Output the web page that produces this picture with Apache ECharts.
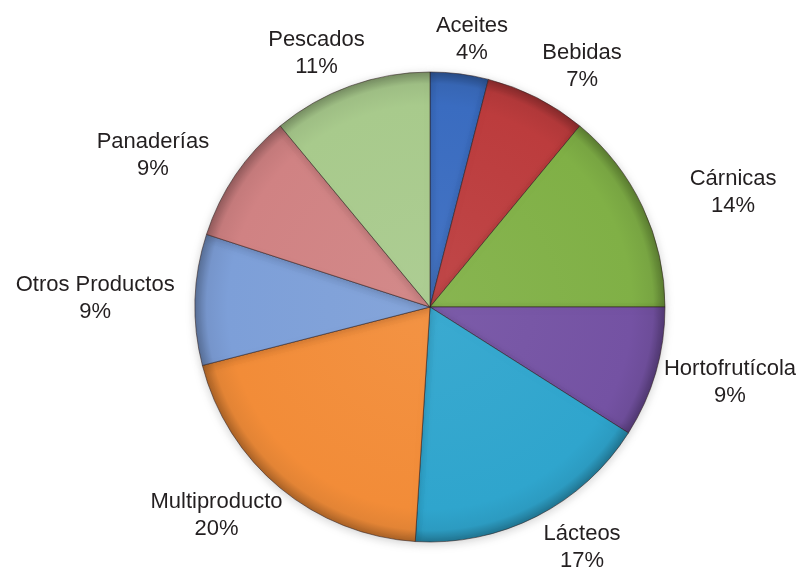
<!DOCTYPE html>
<html>
<head>
<meta charset="utf-8">
<script src="https://cdn.jsdelivr.net/npm/echarts@6/dist/echarts.min.js"></script>
<style>
  html, body { margin: 0; padding: 0; background: #ffffff; }
  #chart { width: 802px; height: 581px; }
</style>
</head>
<body>
<div id="chart"></div>
<script>
// Sectores de la industria alimentaria (% de empresas)
const categories = ['Aceites', 'Bebidas', 'Cárnicas', 'Hortofrutícola', 'Lácteos',
                    'Multiproducto', 'Otros Productos', 'Panaderías', 'Pescados'];
const shares = [4, 7, 14, 9, 17, 20, 9, 9, 11];
const sliceColors = ['#3a6cc0', '#bc3c3d', '#80b046', '#7452a3', '#2fa5cd',
                     '#f28c38', '#7d9fd8', '#d08283', '#a8ca8c'];

// pie geometry
const W = 802, H = 581;
const CX = 430, CY = 307, R = 235;
// labels sit on an ellipse around the pie, kept inside the canvas
const LABEL_RX = 335, LABEL_RY = 270, EDGE = 6;
const FONT_SIZE = 22, LINE_H = 27;
const FONT_FAMILY = '"Liberation Sans", Arial, sans-serif';

function shade(hex, f) {
  const n = parseInt(hex.slice(1), 16);
  let r = (n >> 16) & 255, g = (n >> 8) & 255, b = n & 255;
  const t = f < 0 ? 0 : 255, p = Math.abs(f);
  r = Math.round((t - r) * p + r);
  g = Math.round((t - g) * p + g);
  b = Math.round((t - b) * p + b);
  return 'rgb(' + r + ',' + g + ',' + b + ')';
}

function bevel(c) {
  return {
    type: 'radial', x: CX, y: CY, r: R, global: true,
    colorStops: [
      { offset: 0, color: shade(c, 0.06) },
      { offset: 0.86, color: c },
      { offset: 0.95, color: shade(c, -0.06) },
      { offset: 1, color: shade(c, -0.3) }
    ]
  };
}

const total = shares.reduce((a, b) => a + b, 0);
const midAngle = shares.map((v, i) => {
  const before = shares.slice(0, i).reduce((a, b) => a + b, 0);
  return (before + v / 2) / total * Math.PI * 2;
});

const measureCtx = document.createElement('canvas').getContext('2d');
measureCtx.font = FONT_SIZE + 'px ' + FONT_FAMILY;
function textWidth(text) {
  return Math.max.apply(null, String(text).split('\n').map(s => measureCtx.measureText(s).width));
}

const chart = echarts.init(document.getElementById('chart'), null, { renderer: 'canvas' });
chart.setOption({
  backgroundColor: '#ffffff',
  animation: false,
  series: [{
    type: 'pie',
    center: [CX, CY],
    radius: [0, R],
    startAngle: 90,
    clockwise: true,
    avoidLabelOverlap: false,
    data: categories.map((name, i) => ({
      name: name,
      value: shares[i],
      itemStyle: { color: bevel(sliceColors[i]) }
    })),
    itemStyle: {
      borderColor: 'rgba(45,30,30,0.55)',
      borderWidth: 1,
      shadowBlur: 10,
      shadowColor: 'rgba(0,0,0,0.18)',
      shadowOffsetY: 2
    },
    emphasis: { disabled: true },
    label: {
      show: true,
      position: 'outside',
      formatter: '{b}\n{c}%',
      color: '#231f20',
      fontFamily: FONT_FAMILY,
      fontSize: FONT_SIZE,
      lineHeight: LINE_H,
      width: 220,
      overflow: 'none',
      align: 'center'
    },
    labelLine: { show: false },
    labelLayout: function (params) {
      const i = params.dataIndex;
      const a = midAngle[i];
      const halfW = textWidth(categories[i]) / 2;
      const halfH = LINE_H;
      let x = CX + LABEL_RX * Math.sin(a);
      let y = CY - LABEL_RY * Math.cos(a);
      x = Math.min(Math.max(x, EDGE + halfW), W - EDGE - halfW);
      y = Math.min(Math.max(y, halfH), H - halfH);
      return { x: x, y: y, align: 'center', verticalAlign: 'middle' };
    }
  }]
});
</script>
</body>
</html>
